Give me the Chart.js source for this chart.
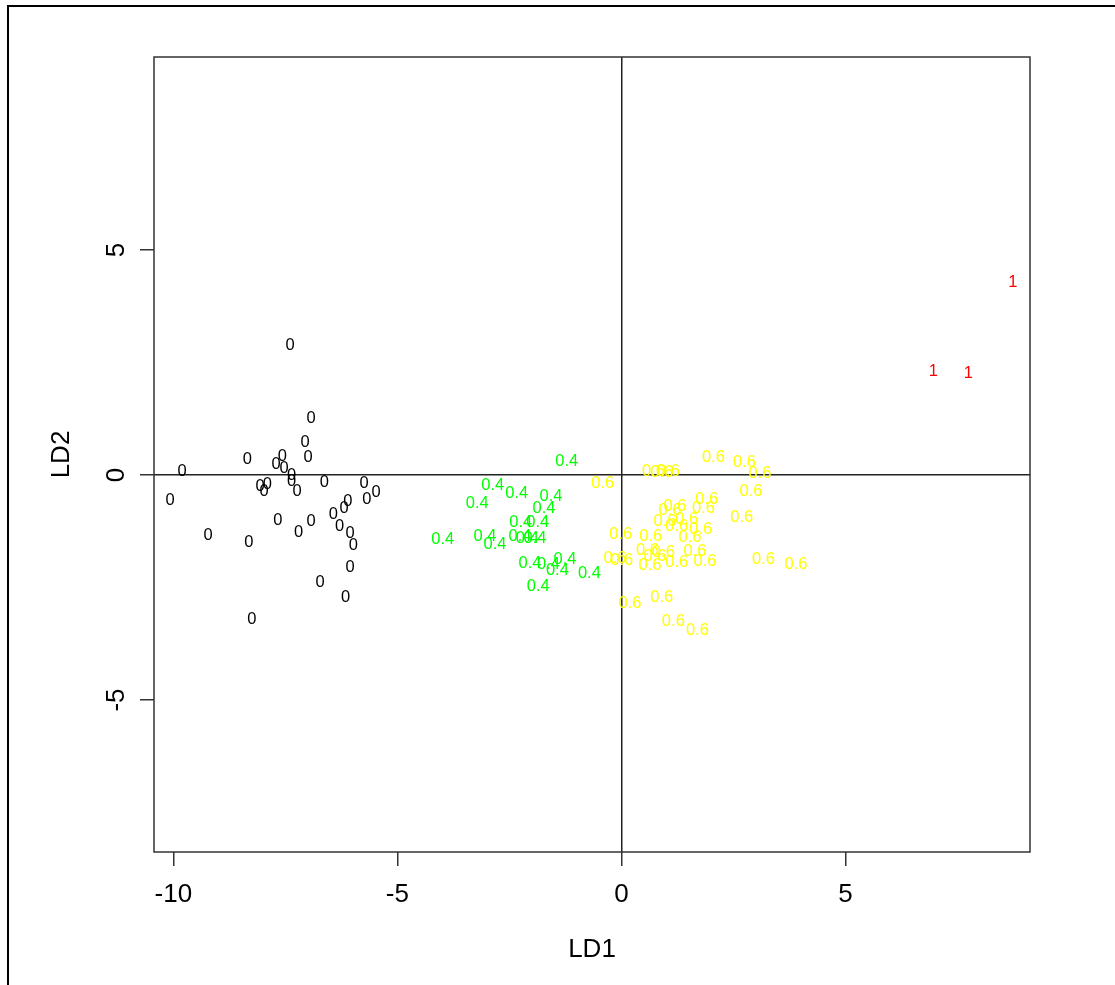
<!DOCTYPE html>
<html><head><meta charset="utf-8">
<style>
html,body{margin:0;padding:0;background:#fff;}
#wrap{position:relative;width:1115px;height:985px;overflow:hidden;background:#fff;}
#frame{position:absolute;left:7px;top:5px;right:-10px;bottom:-10px;border-top:2px solid #000;border-left:2px solid #000;pointer-events:none;}
canvas{position:absolute;left:0;top:0;}
</style>
<script src="https://cdn.jsdelivr.net/npm/chart.js@4/dist/chart.umd.min.js"></script>
</head><body>
<div id="wrap"><canvas id="c" width="1115" height="985"></canvas><div id="frame"></div></div>
<script>
// ---- data ----
const xTicks = [-10, -5, 0, 5];
const yTicks = [-5, 0, 5];
const xTitle = 'LD1';
const yTitle = 'LD2';
const xMin = -10.431, xMax = 9.117;
const yMin = -8.378, yMax = 9.289;

const groupLabels = ['0', '0.4', '0.6', '1'];
const groupColors = ['#000000', '#00FF00', '#FFFF00', '#FF0000'];

const ld1_g0 = [-7.396, -6.927, -7.061, -8.349, -7.567, -6.994, -7.708, -9.806, -7.530, -7.358, -7.358, -6.630, -8.065, -7.902, -7.976, -7.239, -5.744, -10.074, -5.476, -5.684, -6.108, -6.191, -6.429, -7.670, -6.927, -7.202, -6.287, -6.057, -9.226, -8.317, -5.983, -6.057, -6.726, -6.153, -8.250];
const ld2_g0 = [2.889, 1.260, 0.718, 0.349, 0.422, 0.393, 0.244, 0.073, 0.149, 0.000, -0.149, -0.162, -0.244, -0.200, -0.371, -0.371, -0.184, -0.571, -0.393, -0.533, -0.578, -0.740, -0.867, -1.000, -1.029, -1.267, -1.133, -1.296, -1.340, -1.504, -1.571, -2.044, -2.393, -2.718, -3.200];

const ld1_g04 = [-1.221, -2.872, -2.337, -1.571, -3.216, -1.727, -2.247, -1.868, -3.988, -3.044, -2.821, -2.263, -2.100, -1.928, -2.040, -1.631, -1.259, -1.430, -0.716, -1.855];
const ld2_g04 = [0.296, -0.238, -0.407, -0.467, -0.629, -0.740, -1.060, -1.060, -1.429, -1.371, -1.540, -1.356, -1.407, -1.407, -1.962, -1.978, -1.873, -2.111, -2.184, -2.482];

const ld1_g06 = [2.051, 2.743, 3.093, 0.712, 0.899, 1.047, -0.417, 2.892, 1.904, 1.196, 1.085, 1.828, 2.685, 0.973, 1.457, 1.234, 1.770, -0.016, 0.654, 1.531, 0.578, 0.935, 1.643, 3.167, -0.143, 0.007, 0.638, 0.750, 1.234, 1.866, 3.896, 0.192, 0.899, 1.158, 1.694];
const ld2_g06 = [0.384, 0.273, 0.038, 0.089, 0.060, 0.089, -0.184, -0.371, -0.533, -0.704, -0.778, -0.740, -0.940, -1.038, -0.984, -1.149, -1.207, -1.311, -1.371, -1.393, -1.682, -1.727, -1.704, -1.873, -1.851, -1.889, -2.000, -1.800, -1.949, -1.927, -1.984, -2.851, -2.718, -3.260, -3.460];

const ld1_g1 = [8.732, 6.961, 7.742];
const ld2_g1 = [4.282, 2.296, 2.260];

// ---- chart ----
const FONT = '"Liberation Sans", Arial, Helvetica, sans-serif';
const pts = (xs, ys) => xs.map((x, i) => ({x: x, y: ys[i]}));
const groupsX = [ld1_g0, ld1_g04, ld1_g06, ld1_g1];
const groupsY = [ld2_g0, ld2_g04, ld2_g06, ld2_g1];

const datasets = groupLabels.map((lab, i) => ({
  label: lab,
  data: pts(groupsX[i], groupsY[i]),
  textColor: groupColors[i],
  pointRadius: 0,
  pointHoverRadius: 0,
  showLine: false
}));

const textLabels = {
  id: 'textLabels',
  afterDatasetsDraw(chart) {
    const ctx = chart.ctx;
    ctx.save();
    ctx.font = '16.5px ' + FONT;
    ctx.textAlign = 'center';
    ctx.textBaseline = 'middle';
    chart.data.datasets.forEach((ds, i) => {
      const meta = chart.getDatasetMeta(i);
      ctx.fillStyle = ds.textColor;
      meta.data.forEach(el => ctx.fillText(ds.label, el.x, el.y));
    });
    ctx.restore();
  }
};

const plotBox = {
  id: 'plotBox',
  afterDraw(chart) {
    const a = chart.chartArea, ctx = chart.ctx;
    ctx.save();
    ctx.strokeStyle = '#333';
    ctx.lineWidth = 1.5;
    ctx.strokeRect(a.left, a.top, a.right - a.left, a.bottom - a.top);
    ctx.restore();
  }
};

const zeroColor = c => (c.tick && c.tick.value === 0) ? '#222' : 'rgba(0,0,0,0)';

new Chart(document.getElementById('c'), {
  type: 'scatter',
  data: { datasets: datasets },
  plugins: [textLabels, plotBox],
  options: {
    responsive: false,
    animation: false,
    devicePixelRatio: 1,
    layout: { padding: { top: 57, right: 85, bottom: 0, left: 0 } },
    plugins: { legend: { display: false }, tooltip: { enabled: false } },
    scales: {
      x: {
        type: 'linear', min: xMin, max: xMax,
        afterBuildTicks: s => { s.ticks = xTicks.map(v => ({value: v})); },
        afterFit: s => { s.height = 133; },
        grid: { drawOnChartArea: true, color: zeroColor, lineWidth: 1.5, tickColor: '#333', tickWidth: 1.5, tickLength: 14 },
        border: { display: false },
        ticks: { font: { family: FONT, size: 26 }, color: '#000', padding: 13, minRotation: 0, maxRotation: 0, autoSkip: false },
        title: { display: true, text: xTitle, font: { family: FONT, size: 26 }, color: '#000', padding: { top: 0, bottom: 20 } }
      },
      y: {
        type: 'linear', min: yMin, max: yMax,
        afterBuildTicks: s => { s.ticks = yTicks.map(v => ({value: v})); },
        afterFit: s => { s.width = 154; },
        grid: { drawOnChartArea: true, color: zeroColor, lineWidth: 1.5, tickColor: '#333', tickWidth: 1.5, tickLength: 14 },
        border: { display: false },
        ticks: { font: { family: FONT, size: 26 }, color: '#000', padding: 12, minRotation: 90, maxRotation: 90, crossAlign: 'center', autoSkip: false },
        title: { display: true, text: yTitle, font: { family: FONT, size: 26 }, color: '#000', padding: { top: 46, bottom: 0 } }
      }
    }
  }
});
</script>
</body></html>
